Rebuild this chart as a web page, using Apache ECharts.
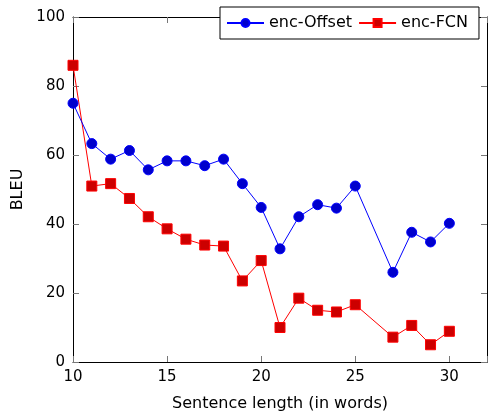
<!DOCTYPE html>
<html><head><meta charset="utf-8">
<script src="https://cdn.jsdelivr.net/npm/echarts@6/dist/echarts.min.js"></script>
<style>html,body{margin:0;padding:0;background:#fff}#c{width:488px;height:412px}</style>
</head><body><div id="c"></div>
<script>
const xOffset = [10,11,12,13,14,15,16,17,18,19,20,21,22,23,24,25,27,28,29,30];
const yOffset = [75,63.3,58.8,61.3,55.7,58.3,58.3,56.9,58.8,51.7,44.8,32.8,42.1,45.6,44.6,51.0,26.0,37.6,34.8,40.2];
const xFCN = [10,11,12,13,14,15,16,17,18,19,20,21,22,23,24,25,27,28,29,30];
const yFCN = [86.0,51.0,51.7,47.4,42.1,38.6,35.6,33.9,33.6,23.5,29.4,10.0,18.5,15.0,14.5,16.6,7.2,10.6,5.0,8.9];
const names = ['enc-Offset','enc-FCN'];
const xLabel = 'Sentence length (in words)';
const yLabel = 'BLEU';

const font = 'DejaVu Sans';
const chart = echarts.init(document.getElementById('c'), null, {renderer:'canvas'});
const tickStyle = {show:true, inside:true, length:6, lineStyle:{color:'#777', width:1}};
const lineBox = {show:true, onZero:false, lineStyle:{color:'#000', width:1}};
chart.setOption({
  animation:false,
  backgroundColor:'#fff',
  grid:{left:73, right:1, top:17, bottom:50, containLabel:false, outerBoundsMode:'none'},
  legend:{
    data:names, left:220, top:7, orient:'horizontal',
    backgroundColor:'#fff', borderColor:'#000', borderWidth:1, borderRadius:0,
    padding:[8,11,8,6], itemWidth:37, itemHeight:10, itemGap:6,
    textStyle:{fontFamily:font, fontSize:16, color:'#000'}
  },
  xAxis:[{
    type:'value', min:10, max:32, interval:5, position:'bottom',
    name:xLabel, nameLocation:'middle', nameGap:34,
    nameTextStyle:{fontFamily:font, fontSize:16, color:'#000'},
    axisLine:lineBox, axisTick:tickStyle, splitLine:{show:false},
    axisLabel:{fontFamily:font, fontSize:15, color:'#000', margin:8,
      formatter:v=> (v%5===0 ? String(v) : '')}
  },{
    type:'value', min:10, max:32, interval:5, position:'top',
    axisLine:lineBox, axisTick:tickStyle, splitLine:{show:false}, axisLabel:{show:false}
  }],
  yAxis:[{
    type:'value', min:0, max:100, interval:20, position:'left',
    name:yLabel, nameLocation:'middle', nameGap:45, nameRotate:90,
    nameTextStyle:{fontFamily:font, fontSize:16, color:'#000'},
    axisLine:lineBox, axisTick:tickStyle, splitLine:{show:false},
    axisLabel:{fontFamily:font, fontSize:15, color:'#000', margin:8}
  },{
    type:'value', min:0, max:100, interval:20, position:'right',
    axisLine:lineBox, axisTick:tickStyle, splitLine:{show:false}, axisLabel:{show:false}
  }],
  series:[{
    name:names[0], type:'line', data:xOffset.map((x,i)=>[x,yOffset[i]]),
    symbol:'circle', symbolSize:10,
    lineStyle:{color:'#0000ff', width:1},
    itemStyle:{color:'#0000cc', borderColor:'#0000ff', borderWidth:1},
    z:3
  },{
    name:names[1], type:'line', data:xFCN.map((x,i)=>[x,yFCN[i]]),
    symbol:'rect', symbolSize:10,
    lineStyle:{color:'#ff0000', width:1},
    itemStyle:{color:'#cc0000', borderColor:'#ff0000', borderWidth:1},
    z:2
  }]
});
</script></body></html>
